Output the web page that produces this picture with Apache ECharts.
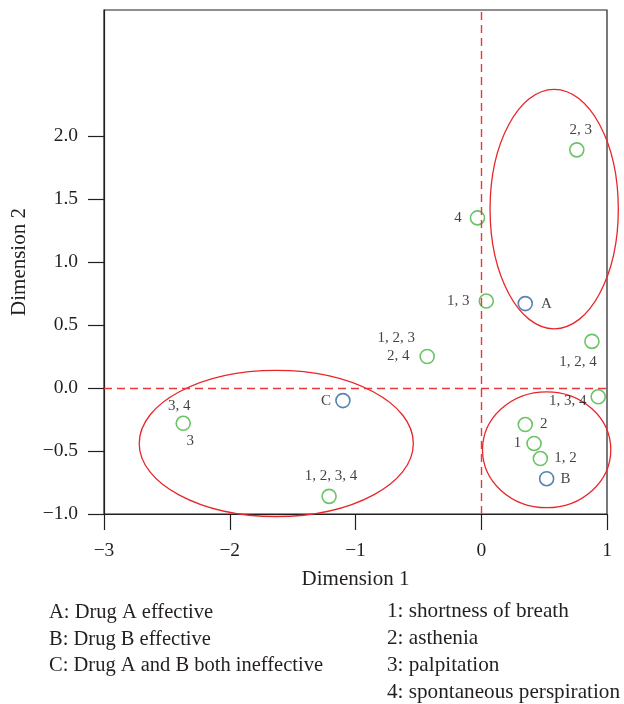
<!DOCTYPE html>
<html><head><meta charset="utf-8">
<script src="https://cdn.jsdelivr.net/npm/echarts@6/dist/echarts.min.js"></script>
<style>html,body{margin:0;padding:0;background:#fff}#c{width:624px;height:704px}</style>
</head><body><div id="c"></div>
<script>
// ---- data ----
const xTicks = [-3, -2, -1, 0, 1];
const yTicks = [-1.0, -0.5, 0.0, 0.5, 1.0, 1.5, 2.0];
const pointNames = ['2, 3', '4', '1, 3', 'A', '1, 2, 4', '2, 4', '1, 2, 3', 'C', '1, 3, 4', '2', '1', '1, 2', 'B', '1, 2, 3, 4', '3, 4', '3'];
const pointX = [0.76, -0.03, 0.04, 0.35, 0.88, -0.43, -0.43, -1.10, 0.93, 0.35, 0.42, 0.47, 0.52, -1.21, -2.37, -2.37];
const pointY = [1.89, 1.35, 0.69, 0.67, 0.37, 0.25, 0.25, -0.10, -0.07, -0.29, -0.44, -0.56, -0.72, -0.86, -0.28, -0.28];
const pointType = ['symptom', 'symptom', 'symptom', 'drug', 'symptom', 'symptom', 'symptom', 'drug', 'symptom', 'symptom', 'symptom', 'symptom', 'drug', 'symptom', 'symptom', 'symptom'];
const ellipseCX = [0.58, 0.52, -1.63];
const ellipseCY = [1.42, -0.49, -0.44];
const ellipseRX = [0.51, 0.51, 1.09];
const ellipseRY = [0.95, 0.46, 0.58];
const refLineX = [0];
const refLineY = [0];
const legendLeft = ['A: Drug A effective', 'B: Drug B effective', 'C: Drug A and B both ineffective'];
const legendRight = ['1: shortness of breath', '2: asthenia', '3: palpitation', '4: spontaneous perspiration'];

// ---- layout / style (not data) ----
const FONT = 'Liberation Serif';
const INK = '#231f20';
// labelOnly: second label of a point that carries two labels (circle drawn once)
const labelLayout = [
  {position: 'top', distance: 4, offset: [4, 0]},
  {position: 'left', distance: 8, offset: [0, 0]},
  {position: 'left', distance: 9, offset: [0, 0]},
  {position: 'right', distance: 8, offset: [0, 0]},
  {position: 'bottom', distance: 5, offset: [-14, 0]},
  {position: 'left', distance: 10, offset: [0, 0]},
  {position: 'top', distance: 3, offset: [-31, 0], labelOnly: true},
  {position: 'left', distance: 4, offset: [0, 0]},
  {position: 'left', distance: 4, offset: [0, 4]},
  {position: 'right', distance: 7, offset: [0, 0]},
  {position: 'left', distance: 5, offset: [0, 0]},
  {position: 'right', distance: 6, offset: [0, 0]},
  {position: 'right', distance: 6, offset: [0, 0]},
  {position: 'top', distance: 5, offset: [2, 0]},
  {position: 'top', distance: 2, offset: [-4, 0]},
  {position: 'bottom', distance: 2, offset: [7, 0], labelOnly: true}
];
const colorOf = {symptom: '#45b53f', drug: '#2c64a0'};

const minus = v => String(v).replace('-', '\u2212');

const scatterData = pointX.map((x, i) => ({
  value: [x, pointY[i]],
  itemStyle: {color: 'transparent', borderColor: labelLayout[i].labelOnly ? 'transparent' : colorOf[pointType[i]], borderWidth: 1.6},
  label: {
    show: true, formatter: pointNames[i],
    position: labelLayout[i].position, distance: labelLayout[i].distance, offset: labelLayout[i].offset,
    fontFamily: FONT, fontSize: 15, color: '#111'
  }
}));

const ellipseData = ellipseCX.map((cx, i) => [cx, ellipseCY[i], ellipseRX[i], ellipseRY[i]]);

const graphics = [];
legendLeft.forEach((t, i) => graphics.push({
  type: 'text', left: 49, top: 602 + i * 26.8,
  style: {text: t, fontFamily: FONT, fontSize: 20.5, fill: INK}
}));
legendRight.forEach((t, i) => graphics.push({
  type: 'text', left: 387, top: 600.5 + i * 27.2,
  style: {text: t, fontFamily: FONT, fontSize: 21.2, fill: INK}
}));

const chart = echarts.init(document.getElementById('c'));
chart.setOption({
  backgroundColor: '#fff',
  animation: false,
  grid: {left: 104, right: 17, top: 10, bottom: 190, show: true, borderColor: INK, borderWidth: 1.2, backgroundColor: 'transparent'},
  xAxis: {
    type: 'value', min: xTicks[0], max: xTicks[xTicks.length - 1], interval: 1,
    name: 'Dimension 1', nameLocation: 'middle', nameGap: 55,
    nameTextStyle: {fontFamily: FONT, fontSize: 21, color: INK},
    axisLine: {onZero: false, lineStyle: {color: INK, width: 1.2}},
    axisTick: {show: true, length: 16, lineStyle: {color: INK, width: 1.2}},
    axisLabel: {margin: 27, fontFamily: FONT, fontSize: 19.5, color: INK, formatter: v => minus(v)},
    splitLine: {show: false}
  },
  yAxis: {
    type: 'value', min: -1, max: 3, interval: 0.5,
    name: 'Dimension 2', nameLocation: 'middle', nameGap: 74,
    nameTextStyle: {fontFamily: FONT, fontSize: 21, color: INK},
    axisLine: {onZero: false, lineStyle: {color: INK, width: 1.2}},
    axisTick: {show: true, length: 16, lineStyle: {color: INK, width: 1.2}, customValues: yTicks},
    axisLabel: {margin: 26, fontFamily: FONT, fontSize: 19.5, color: INK, customValues: yTicks, formatter: v => minus(Number(v).toFixed(1))},
    splitLine: {show: false}
  },
  series: [
    {
      type: 'custom', coordinateSystem: 'cartesian2d', silent: true, clip: false, z: 1,
      encode: {x: 0, y: 1},
      data: ellipseData,
      renderItem: function (params, api) {
        const c = api.coord([api.value(0), api.value(1)]);
        const s = api.size([api.value(2), api.value(3)]);
        return {type: 'ellipse', shape: {cx: c[0], cy: c[1], rx: s[0], ry: s[1]},
          style: {fill: 'none', stroke: '#e8262a', lineWidth: 1.3}};
      }
    },
    {
      type: 'scatter', symbol: 'circle', symbolSize: 14, z: 3,
      data: scatterData,
      markLine: {
        silent: true, symbol: 'none', label: {show: false},
        lineStyle: {color: '#e8383d', type: [8, 5], width: 1.4},
        data: refLineX.map(v => ({xAxis: v})).concat(refLineY.map(v => ({yAxis: v})))
      }
    }
  ],
  graphic: graphics
});
</script></body></html>
